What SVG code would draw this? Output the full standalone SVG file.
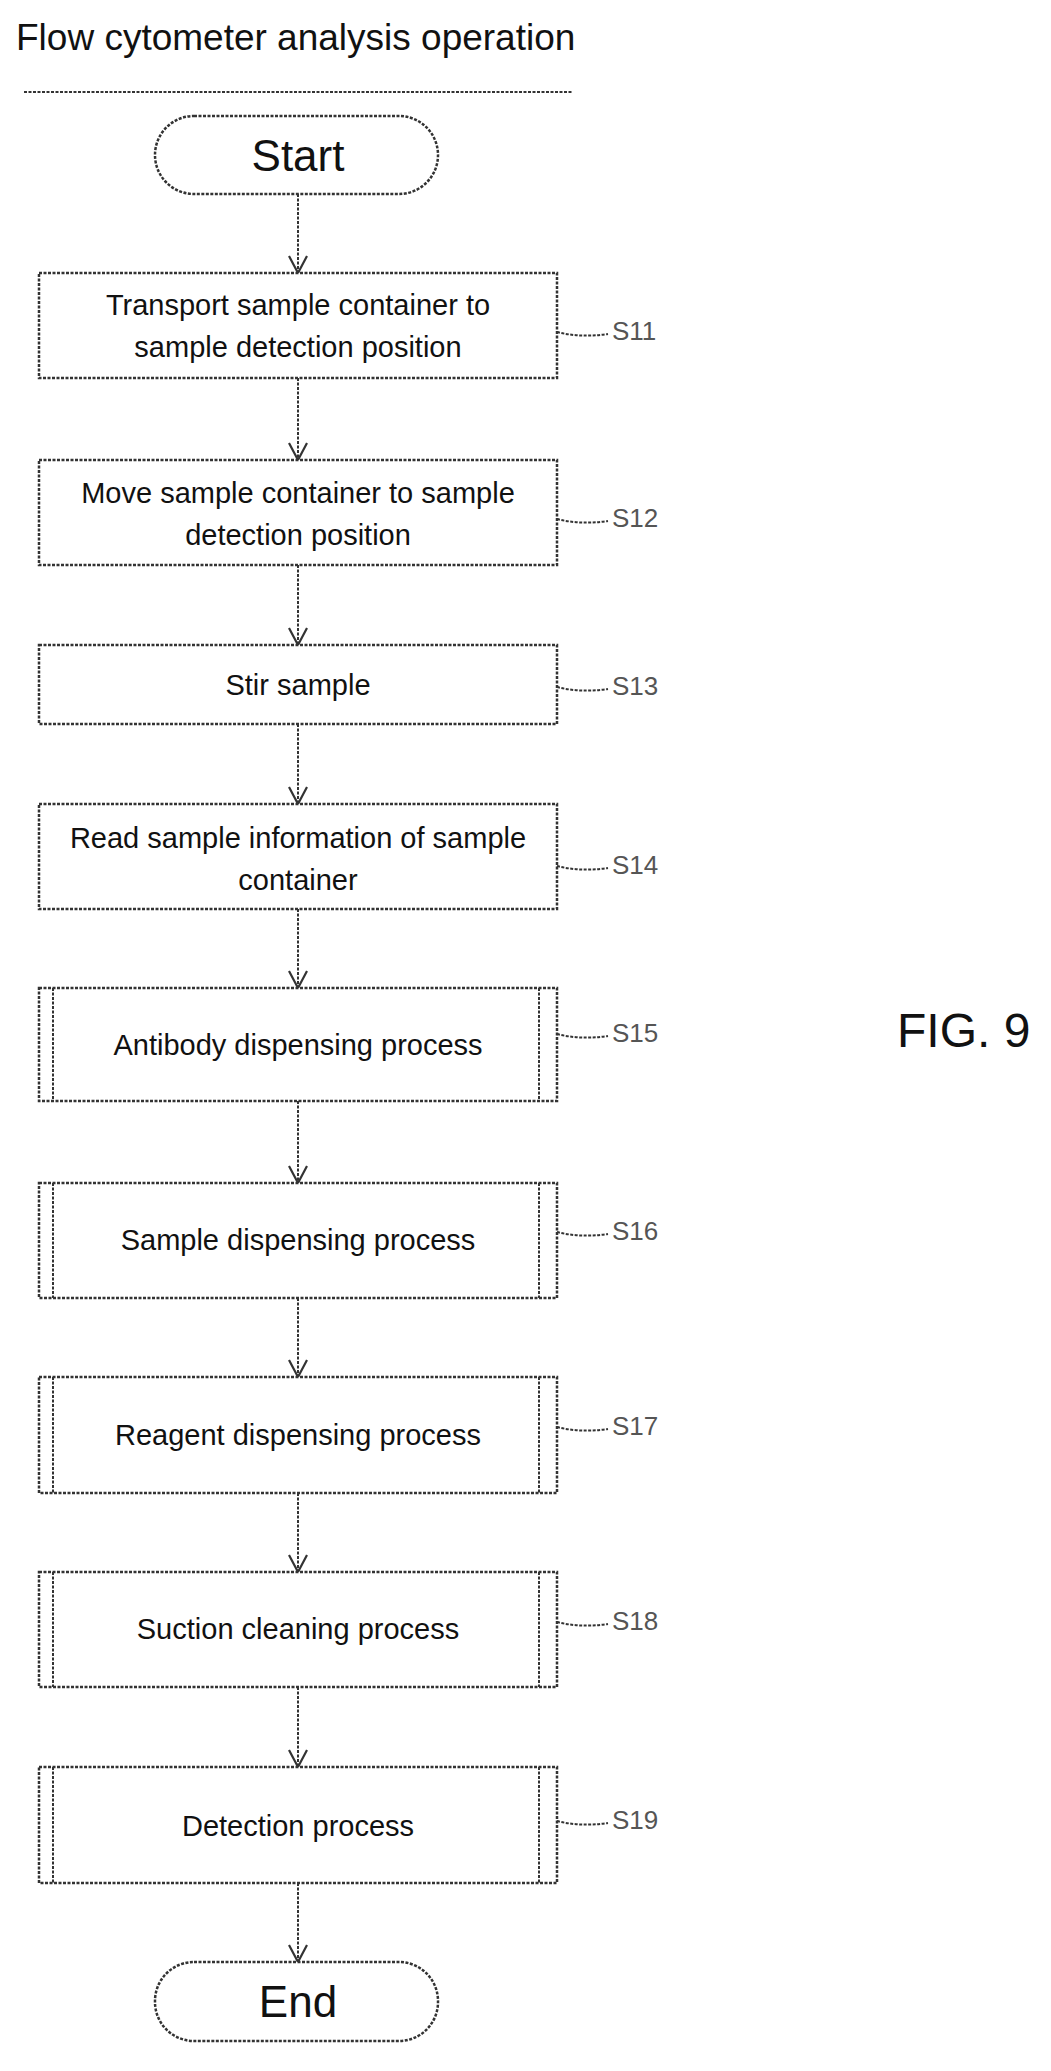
<svg xmlns="http://www.w3.org/2000/svg" width="1051" height="2071" viewBox="0 0 1051 2071">
<defs>
<style>
.b{fill:#fff;stroke:#333;stroke-width:2.5;stroke-dasharray:3 1.5}
.l{fill:none;stroke:#333;stroke-width:2;stroke-dasharray:3 1.5}
.t{font-family:"Liberation Sans",Arial,sans-serif;font-size:29px;fill:#111;text-anchor:middle}
.big{font-size:44px}
.s{font-family:"Liberation Sans",Arial,sans-serif;font-size:26px;fill:#555;}
</style>
<marker id="a" viewBox="0 0 24 24" refX="23" refY="12" markerWidth="24" markerHeight="24" markerUnits="userSpaceOnUse" orient="auto"><path d="M6 3 L23 12 L6 21" fill="none" stroke="#333" stroke-width="2.2"/></marker>
</defs>
<rect width="1051" height="2071" fill="#fff"/>
<text x="16" y="50" font-family="Liberation Sans,Arial,sans-serif" font-size="37" fill="#111">Flow cytometer analysis operation</text>
<line x1="24" y1="92" x2="572" y2="92" class="l" stroke-width="1.5"/>
<g id="connectors">
<line class="l" x1="298" y1="194" x2="298" y2="273" marker-end="url(#a)"/>
<line class="l" x1="298" y1="378" x2="298" y2="460" marker-end="url(#a)"/>
<line class="l" x1="298" y1="565" x2="298" y2="645" marker-end="url(#a)"/>
<line class="l" x1="298" y1="724" x2="298" y2="804" marker-end="url(#a)"/>
<line class="l" x1="298" y1="909" x2="298" y2="988" marker-end="url(#a)"/>
<line class="l" x1="298" y1="1101" x2="298" y2="1183" marker-end="url(#a)"/>
<line class="l" x1="298" y1="1298" x2="298" y2="1377" marker-end="url(#a)"/>
<line class="l" x1="298" y1="1493" x2="298" y2="1572" marker-end="url(#a)"/>
<line class="l" x1="298" y1="1687" x2="298" y2="1767" marker-end="url(#a)"/>
<line class="l" x1="298" y1="1883" x2="298" y2="1962" marker-end="url(#a)"/>
</g>
<g id="start"><rect class="b" x="155" y="116" width="283" height="78" rx="39"/><text class="t big" x="298" y="171">Start</text></g>
<g id="s11"><rect class="b" x="39" y="273" width="518" height="105"/><text class="t" x="298" y="315">Transport sample container to</text><text class="t" x="298" y="357">sample detection position</text><path class="l" d="M557 332 Q580 338 608 334"/><text class="s" x="612" y="340">S11</text></g>
<g id="s12"><rect class="b" x="39" y="460" width="518" height="105"/><text class="t" x="298" y="503">Move sample container to sample</text><text class="t" x="298" y="545">detection position</text><path class="l" d="M557 519 Q580 525 608 521"/><text class="s" x="612" y="527">S12</text></g>
<g id="s13"><rect class="b" x="39" y="645" width="518" height="79"/><text class="t" x="298" y="695">Stir sample</text><path class="l" d="M557 687 Q580 693 608 689"/><text class="s" x="612" y="695">S13</text></g>
<g id="s14"><rect class="b" x="39" y="804" width="518" height="105"/><text class="t" x="298" y="848">Read sample information of sample</text><text class="t" x="298" y="890">container</text><path class="l" d="M557 866 Q580 872 608 868"/><text class="s" x="612" y="874">S14</text></g>
<g id="s15"><rect class="b" x="39" y="988" width="518" height="113"/><line class="l" x1="53" y1="988" x2="53" y2="1101"/><line class="l" x1="539" y1="988" x2="539" y2="1101"/><text class="t" x="298" y="1055">Antibody dispensing process</text><path class="l" d="M557 1034 Q580 1040 608 1036"/><text class="s" x="612" y="1042">S15</text></g>
<g id="s16"><rect class="b" x="39" y="1183" width="518" height="115"/><line class="l" x1="53" y1="1183" x2="53" y2="1298"/><line class="l" x1="539" y1="1183" x2="539" y2="1298"/><text class="t" x="298" y="1250">Sample dispensing process</text><path class="l" d="M557 1232 Q580 1238 608 1234"/><text class="s" x="612" y="1240">S16</text></g>
<g id="s17"><rect class="b" x="39" y="1377" width="518" height="116"/><line class="l" x1="53" y1="1377" x2="53" y2="1493"/><line class="l" x1="539" y1="1377" x2="539" y2="1493"/><text class="t" x="298" y="1445">Reagent dispensing process</text><path class="l" d="M557 1427 Q580 1433 608 1429"/><text class="s" x="612" y="1435">S17</text></g>
<g id="s18"><rect class="b" x="39" y="1572" width="518" height="115"/><line class="l" x1="53" y1="1572" x2="53" y2="1687"/><line class="l" x1="539" y1="1572" x2="539" y2="1687"/><text class="t" x="298" y="1639">Suction cleaning process</text><path class="l" d="M557 1622 Q580 1628 608 1624"/><text class="s" x="612" y="1630">S18</text></g>
<g id="s19"><rect class="b" x="39" y="1767" width="518" height="116"/><line class="l" x1="53" y1="1767" x2="53" y2="1883"/><line class="l" x1="539" y1="1767" x2="539" y2="1883"/><text class="t" x="298" y="1836">Detection process</text><path class="l" d="M557 1821 Q580 1827 608 1823"/><text class="s" x="612" y="1829">S19</text></g>
<g id="end"><rect class="b" x="155" y="1962" width="283" height="79" rx="39"/><text class="t big" x="298" y="2017">End</text></g>
<text x="897" y="1047" font-family="Liberation Sans,Arial,sans-serif" font-size="48" fill="#111">FIG. 9</text>
</svg>
